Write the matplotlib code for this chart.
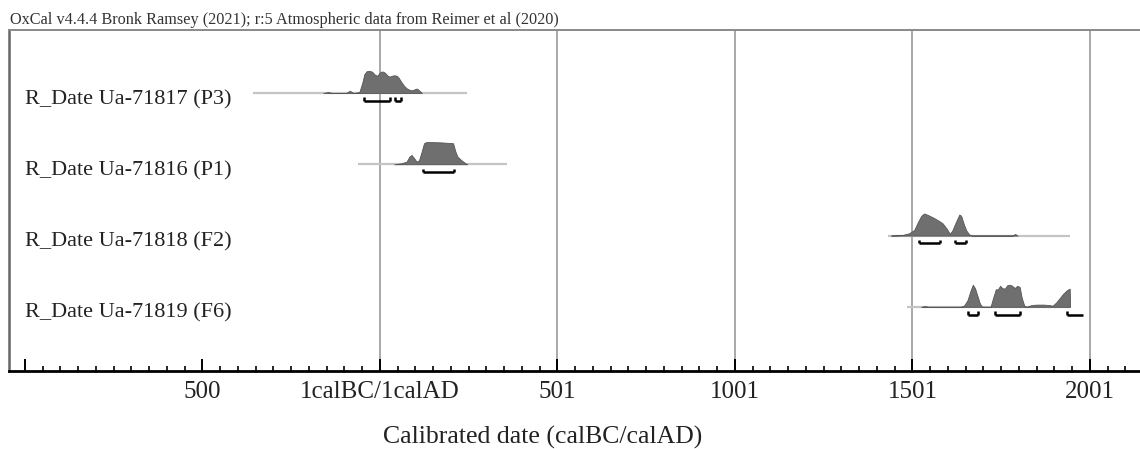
import numpy as np
import matplotlib.pyplot as plt

plt.rcParams['font.family'] = ['Liberation Serif', 'DejaVu Serif']

# sample names, top to bottom
labels = ['R_Date Ua-71817 (P3)', 'R_Date Ua-71816 (P1)',
          'R_Date Ua-71818 (F2)', 'R_Date Ua-71819 (F6)']

# calibrated probability profiles (year, relative probability)
p3_years = [-160, -146, -135, -95, -85, -75, -58, -50, -44, -38, -30, -22, -14, -7, -2,
            4, 10, 16, 22, 28, 34, 40, 47, 53, 60, 68, 76, 84, 92, 98, 104, 110, 118]
p3_prob = [0, 0.04, 0, 0, 0.1, 0, 0.04, 0.45, 0.85, 0.98, 1.0, 0.96, 0.82, 0.78, 0.9,
           0.97, 0.96, 0.88, 0.77, 0.74, 0.78, 0.8, 0.78, 0.68, 0.5, 0.32, 0.2, 0.14, 0.12,
           0.17, 0.2, 0.12, 0]

p1_years = [40, 60, 75, 83, 89, 95, 103, 110, 117, 124, 130, 150, 170, 190, 206,
            212, 218, 228, 240, 246]
p1_prob = [0, 0.04, 0.12, 0.35, 0.42, 0.3, 0.12, 0.18, 0.55, 0.95, 1.0, 1.0, 0.99, 0.97,
           0.95, 0.6, 0.35, 0.2, 0.05, 0]

f2_years = [1440, 1470, 1490, 1505, 1515, 1525, 1533, 1545, 1560, 1575, 1585, 1597, 1605,
            1612, 1622, 1632, 1637, 1645, 1652, 1660, 1667, 1782, 1789, 1796]
f2_prob = [0, 0.02, 0.1, 0.25, 0.6, 0.9, 1.0, 0.92, 0.8, 0.66, 0.55, 0.3, 0.08,
           0.22, 0.6, 0.95, 0.9, 0.5, 0.22, 0.05, 0, 0, 0.07, 0]

f6_years = [1525, 1535, 1545, 1635, 1645, 1655, 1663, 1670, 1676, 1683, 1690, 1696, 1720,
            1727, 1735, 1740, 1747, 1753, 1760, 1767, 1775, 1781, 1788, 1795, 1802, 1808,
            1815, 1822, 1835, 1850, 1870, 1885, 1895, 1905, 1915, 1925, 1935, 1940, 1943, 1944]
f6_prob = [0, 0.03, 0, 0, 0.05, 0.3, 0.7, 1.0, 0.85, 0.5, 0.15, 0, 0,
           0.4, 0.8, 0.78, 0.95, 0.85, 0.82, 0.98, 1.0, 0.95, 0.85, 0.95, 0.9, 0.4,
           0.05, 0, 0.08, 0.1, 0.1, 0.08, 0.05, 0.2, 0.4, 0.6, 0.75, 0.8, 0.82, 0]

# full calibration range drawn under each sample
spans = [(-358, 245), (-62, 358), (1431, 1944), (1485, 1944)]

# 95.4% ranges (brackets)
p3_hpd = [(-45, 28), (42, 58)]
p1_hpd = [(122, 208)]
f2_hpd = [(1519, 1577), (1620, 1651)]
f6_hpd = [(1656, 1685), (1732, 1803), (1934, 1981)]

tick_years = [-500, 0, 500, 1000, 1500, 2000]
tick_labels = ['500', '1calBC/1calAD', '501', '1001', '1501', '2001']

profiles = [(p3_years, p3_prob), (p1_years, p1_prob), (f2_years, f2_prob), (f6_years, f6_prob)]
ranges = [p3_hpd, p1_hpd, f2_hpd, f6_hpd]

fig = plt.figure(figsize=(11.4, 4.49), dpi=100)
ax = fig.add_axes([9 / 1140, 78 / 449, 1 - 9 / 1140, 341.5 / 449])

for g in [0, 500, 1000, 1500, 2000]:
    ax.axvline(g, color='#9a9a9a', lw=1.2, zorder=1)

for i in range(4):
    y0 = -i
    yrs, pr = profiles[i]
    ax.plot(spans[i], [y0, y0], color='#c4c4c4', lw=1.6, zorder=2, solid_capstyle='butt')
    h = np.array(pr) * 0.31
    ax.fill_between(yrs, y0, y0 + h, color='#6f6f6f', lw=0.6, edgecolor='#555555', zorder=3)
    for a, b in ranges[i]:
        yb = y0 - 0.11
        ax.plot([a, b], [yb, yb], color='black', lw=1.8, zorder=4, solid_capstyle='butt')
        ax.plot([a, a], [yb, yb + 0.05], color='black', lw=1.8, zorder=4, solid_capstyle='butt')
        if b <= spans[i][1]:
            ax.plot([b, b], [yb, yb + 0.05], color='black', lw=1.8, zorder=4, solid_capstyle='butt')
    ax.text(-1000, y0 - 0.09, labels[i], fontsize=16, va='center', ha='left', color='#222222')

ax.set_xlim(-1045, 2141)
ax.set_ylim(-3.90, 0.89)

major = list(range(-1000, 2101, 500))
ax.set_xticks(major)
ax.set_xticklabels([''] + tick_labels)
ax.set_xticks(list(range(-1000, 2141, 50)), minor=True)
ax.tick_params(axis='x', which='major', direction='in', length=9, width=1.4,
               labelsize=18, pad=7, colors='black', labelcolor='#222222')
ax.tick_params(axis='x', which='minor', direction='in', length=3.6, width=1.2, colors='black')
ax.set_yticks([])

ax.spines['right'].set_visible(False)
ax.spines['bottom'].set_linewidth(2)
ax.spines['bottom'].set_color('black')
ax.spines['left'].set_linewidth(1.8)
ax.spines['left'].set_color('#666666')
ax.spines['top'].set_linewidth(1.4)
ax.spines['top'].set_color('#8a8a8a')

fig.text(10 / 1140, 1 - 24 / 449, 'OxCal v4.4.4 Bronk Ramsey (2021); r:5 Atmospheric data from Reimer et al (2020)',
         fontsize=11.7, va='baseline', ha='left', color='#333333')
fig.text(543 / 1140, 1 - 437 / 449, 'Calibrated date (calBC/calAD)', fontsize=18.5,
         va='center', ha='center', color='#222222')

fig.savefig('out.png', dpi=100)
